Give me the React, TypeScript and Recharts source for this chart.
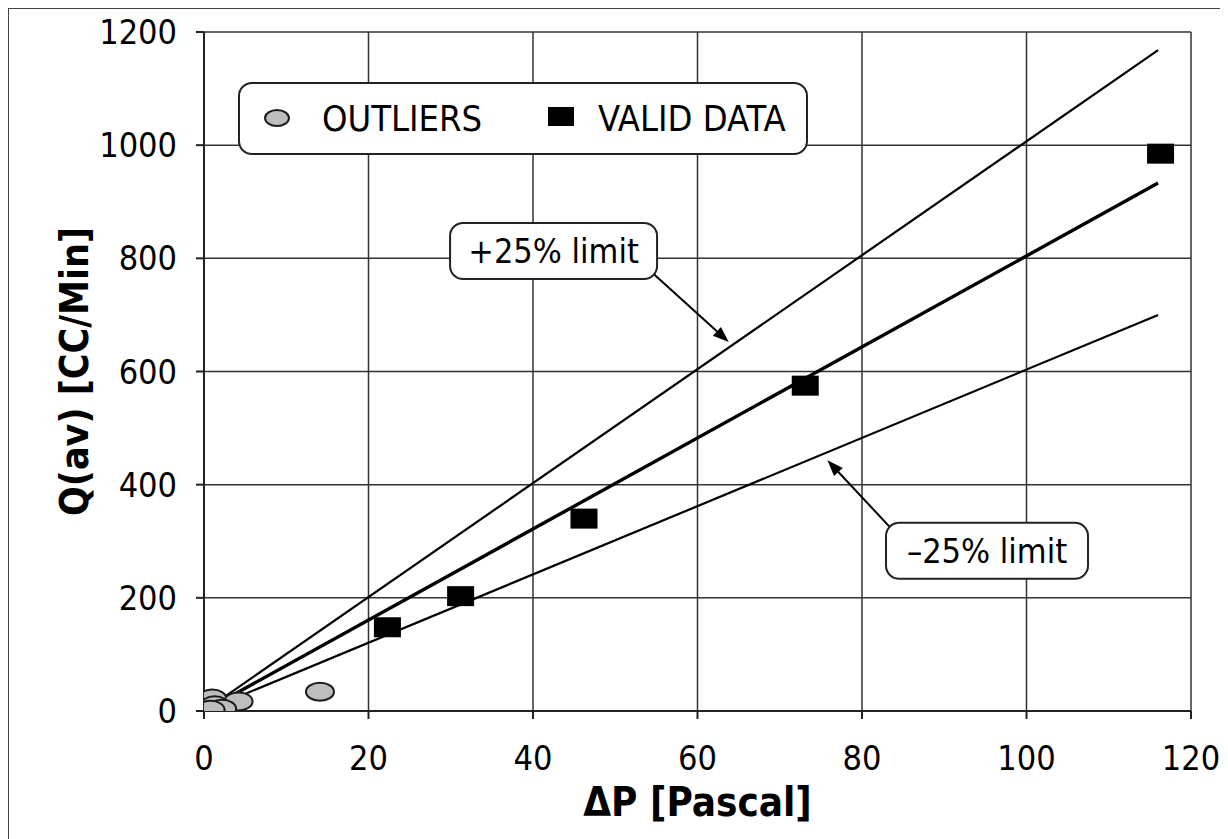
import React from "react";
import {
  ComposedChart,
  XAxis,
  YAxis,
  CartesianGrid,
  Scatter,
  Line,
  ReferenceDot,
  ReferenceLine,
} from "recharts";

const xTicks = [0, 20, 40, 60, 80, 100, 120];
const yTicks = [0, 200, 400, 600, 800, 1000, 1200];

const outliers = [
  { x: 1.0, y: 22 },
  { x: 4.2, y: 17 },
  { x: 1.3, y: 10 },
  { x: 2.2, y: 4 },
  { x: 0.8, y: 2 },
  { x: 14.1, y: 34 },
];

const validData = [
  { x: 22.3, y: 148 },
  { x: 31.2, y: 203 },
  { x: 46.2, y: 340 },
  { x: 73.1, y: 575 },
  { x: 116.3, y: 985 },
];

const fitLine = [
  { x: 1, y: 8 },
  { x: 116, y: 933 },
];
const upperLimit = [
  { x: 1, y: 10 },
  { x: 116, y: 1168 },
];
const lowerLimit = [
  { x: 1, y: 6 },
  { x: 116, y: 700 },
];

const annotations = [
  { label: "+25% limit", x: 42.5, y: 813, w: 207, h: 56, from: { x: 54.0, y: 781 }, to: { x: 63.8, y: 652 } },
  { label: "\u201325% limit", x: 95.2, y: 283, w: 202, h: 56, from: { x: 84.1, y: 314 }, to: { x: 75.8, y: 443 } },
];

const FONT = "'DejaVu Sans Condensed', 'DejaVu Sans', sans-serif";

const EllipseShape = (props: any) => {
  const { cx, cy } = props;
  return <ellipse cx={cx} cy={cy} rx={14} ry={9} fill="#bdbdbd" stroke="#1a1a1a" strokeWidth={2} />;
};

const SquareShape = (props: any) => {
  const { cx, cy } = props;
  return <rect x={cx - 13.5} y={cy - 10} width={27} height={20} fill="#000" />;
};

const makeBox = (label: string, w: number, h: number) => (props: any) => {
  const { cx, cy } = props;
  return (
    <g>
      <rect x={cx - w / 2} y={cy - h / 2} width={w} height={h} rx={13} ry={13} fill="#fff" stroke="#222" strokeWidth={2} />
      <text x={cx} y={cy} textAnchor="middle" dominantBaseline="central" fontSize={34} fontFamily={FONT} fill="#000">
        {label}
      </text>
    </g>
  );
};

const ArrowShape = (props: any) => {
  const x1 = props.x1 ?? props.points?.[0]?.x;
  const y1 = props.y1 ?? props.points?.[0]?.y;
  const x2 = props.x2 ?? props.points?.[1]?.x;
  const y2 = props.y2 ?? props.points?.[1]?.y;
  if ([x1, y1, x2, y2].some((v) => typeof v !== "number")) return null;
  const ang = Math.atan2(y2 - y1, x2 - x1);
  const len = 16;
  const half = 6;
  const bx = x2 - len * Math.cos(ang);
  const by = y2 - len * Math.sin(ang);
  const px = -Math.sin(ang) * half;
  const py = Math.cos(ang) * half;
  return (
    <g>
      <line x1={x1} y1={y1} x2={bx} y2={by} stroke="#000" strokeWidth={2} />
      <polygon points={`${x2},${y2} ${bx + px},${by + py} ${bx - px},${by - py}`} fill="#000" />
    </g>
  );
};

const XLabel = (props: any) => {
  const vb = props.viewBox || {};
  return (
    <text x={vb.x + vb.width / 2} y={794} textAnchor="middle" dominantBaseline="central" fontSize={40} fontWeight="bold" fontFamily={FONT} fill="#000">
      {"\u0394P [Pascal]"}
    </text>
  );
};

const YLabel = (props: any) => {
  const vb = props.viewBox || {};
  const cy = vb.y + vb.height / 2;
  return (
    <text x={66} y={cy} transform={`rotate(-90, 66, ${cy})`} textAnchor="middle" dominantBaseline="central" fontSize={39} fontWeight="bold" fontFamily={FONT} fill="#000">
      Q(av) [CC/Min]
    </text>
  );
};

const Legend = () => (
  <div
    style={{
      position: "absolute",
      left: 230,
      top: 74,
      width: 570,
      height: 73,
      boxSizing: "border-box",
      border: "2px solid #222",
      borderRadius: 14,
      background: "#fff",
      fontFamily: FONT,
      fontSize: 36,
      color: "#000",
    }}
  >
    <svg style={{ position: "absolute", left: 20, top: 22 }} width={34} height={24}>
      <ellipse cx={17} cy={12} rx={12} ry={8} fill="#bdbdbd" stroke="#1a1a1a" strokeWidth={2} />
    </svg>
    <div style={{ position: "absolute", left: 82, top: 0, height: 69, lineHeight: "69px" }}>OUTLIERS</div>
    <svg style={{ position: "absolute", left: 308, top: 23 }} width={26} height={19}>
      <rect x={0} y={0} width={26} height={19} fill="#000" />
    </svg>
    <div style={{ position: "absolute", left: 358, top: 0, height: 69, lineHeight: "69px" }}>VALID DATA</div>
  </div>
);

export default function App() {
  return (
    <div style={{ position: "relative", width: 1220, height: 831 }}>
      <div
        style={{
          position: "absolute",
          left: -1,
          top: -1,
          width: 1220,
          height: 840,
          boxSizing: "border-box",
          borderLeft: "2px solid #444",
          borderTop: "2px solid #444",
          borderRight: "2px solid #444",
          pointerEvents: "none",
        }}
      />
      <ComposedChart width={1220} height={831} margin={{ top: 24, right: 37, bottom: 28, left: 0 }}>
        <CartesianGrid stroke="#333" strokeWidth={1.5} horizontalValues={yTicks} verticalValues={xTicks} />
        <XAxis
          type="number"
          dataKey="x"
          domain={[0, 120]}
          ticks={xTicks}
          height={100}
          tickSize={8}
          tickMargin={27}
          axisLine={{ stroke: "#222", strokeWidth: 2 }}
          tickLine={{ stroke: "#222", strokeWidth: 2 }}
          tick={{ fontSize: 34, fill: "#000", fontFamily: FONT }}
          allowDataOverflow
          label={<XLabel />}
        />
        <YAxis
          type="number"
          dataKey="y"
          domain={[0, 1200]}
          ticks={yTicks}
          width={196}
          tickSize={8}
          tickMargin={19}
          axisLine={{ stroke: "#222", strokeWidth: 2 }}
          tickLine={{ stroke: "#222", strokeWidth: 2 }}
          tick={{ fontSize: 34, fill: "#000", fontFamily: FONT }}
          allowDataOverflow
          label={<YLabel />}
        />
        <Scatter data={outliers} shape={<EllipseShape />} isAnimationActive={false} />
        <Line data={upperLimit} dataKey="y" type="linear" stroke="#000" strokeWidth={2.2} dot={false} activeDot={false} isAnimationActive={false} />
        <Line data={lowerLimit} dataKey="y" type="linear" stroke="#000" strokeWidth={2.2} dot={false} activeDot={false} isAnimationActive={false} />
        <Line data={fitLine} dataKey="y" type="linear" stroke="#000" strokeWidth={3.4} dot={false} activeDot={false} isAnimationActive={false} />
        <Scatter data={validData} shape={<SquareShape />} isAnimationActive={false} />
        {annotations.map((a) => (
          <ReferenceLine
            key={"arr" + a.label}
            segment={[a.from, a.to]}
            shape={<ArrowShape />}
            ifOverflow="visible"
          />
        ))}
        {annotations.map((a) => (
          <ReferenceDot key={"box" + a.label} x={a.x} y={a.y} r={1} shape={makeBox(a.label, a.w, a.h)} ifOverflow="visible" />
        ))}
      </ComposedChart>
      <Legend />
    </div>
  );
}
